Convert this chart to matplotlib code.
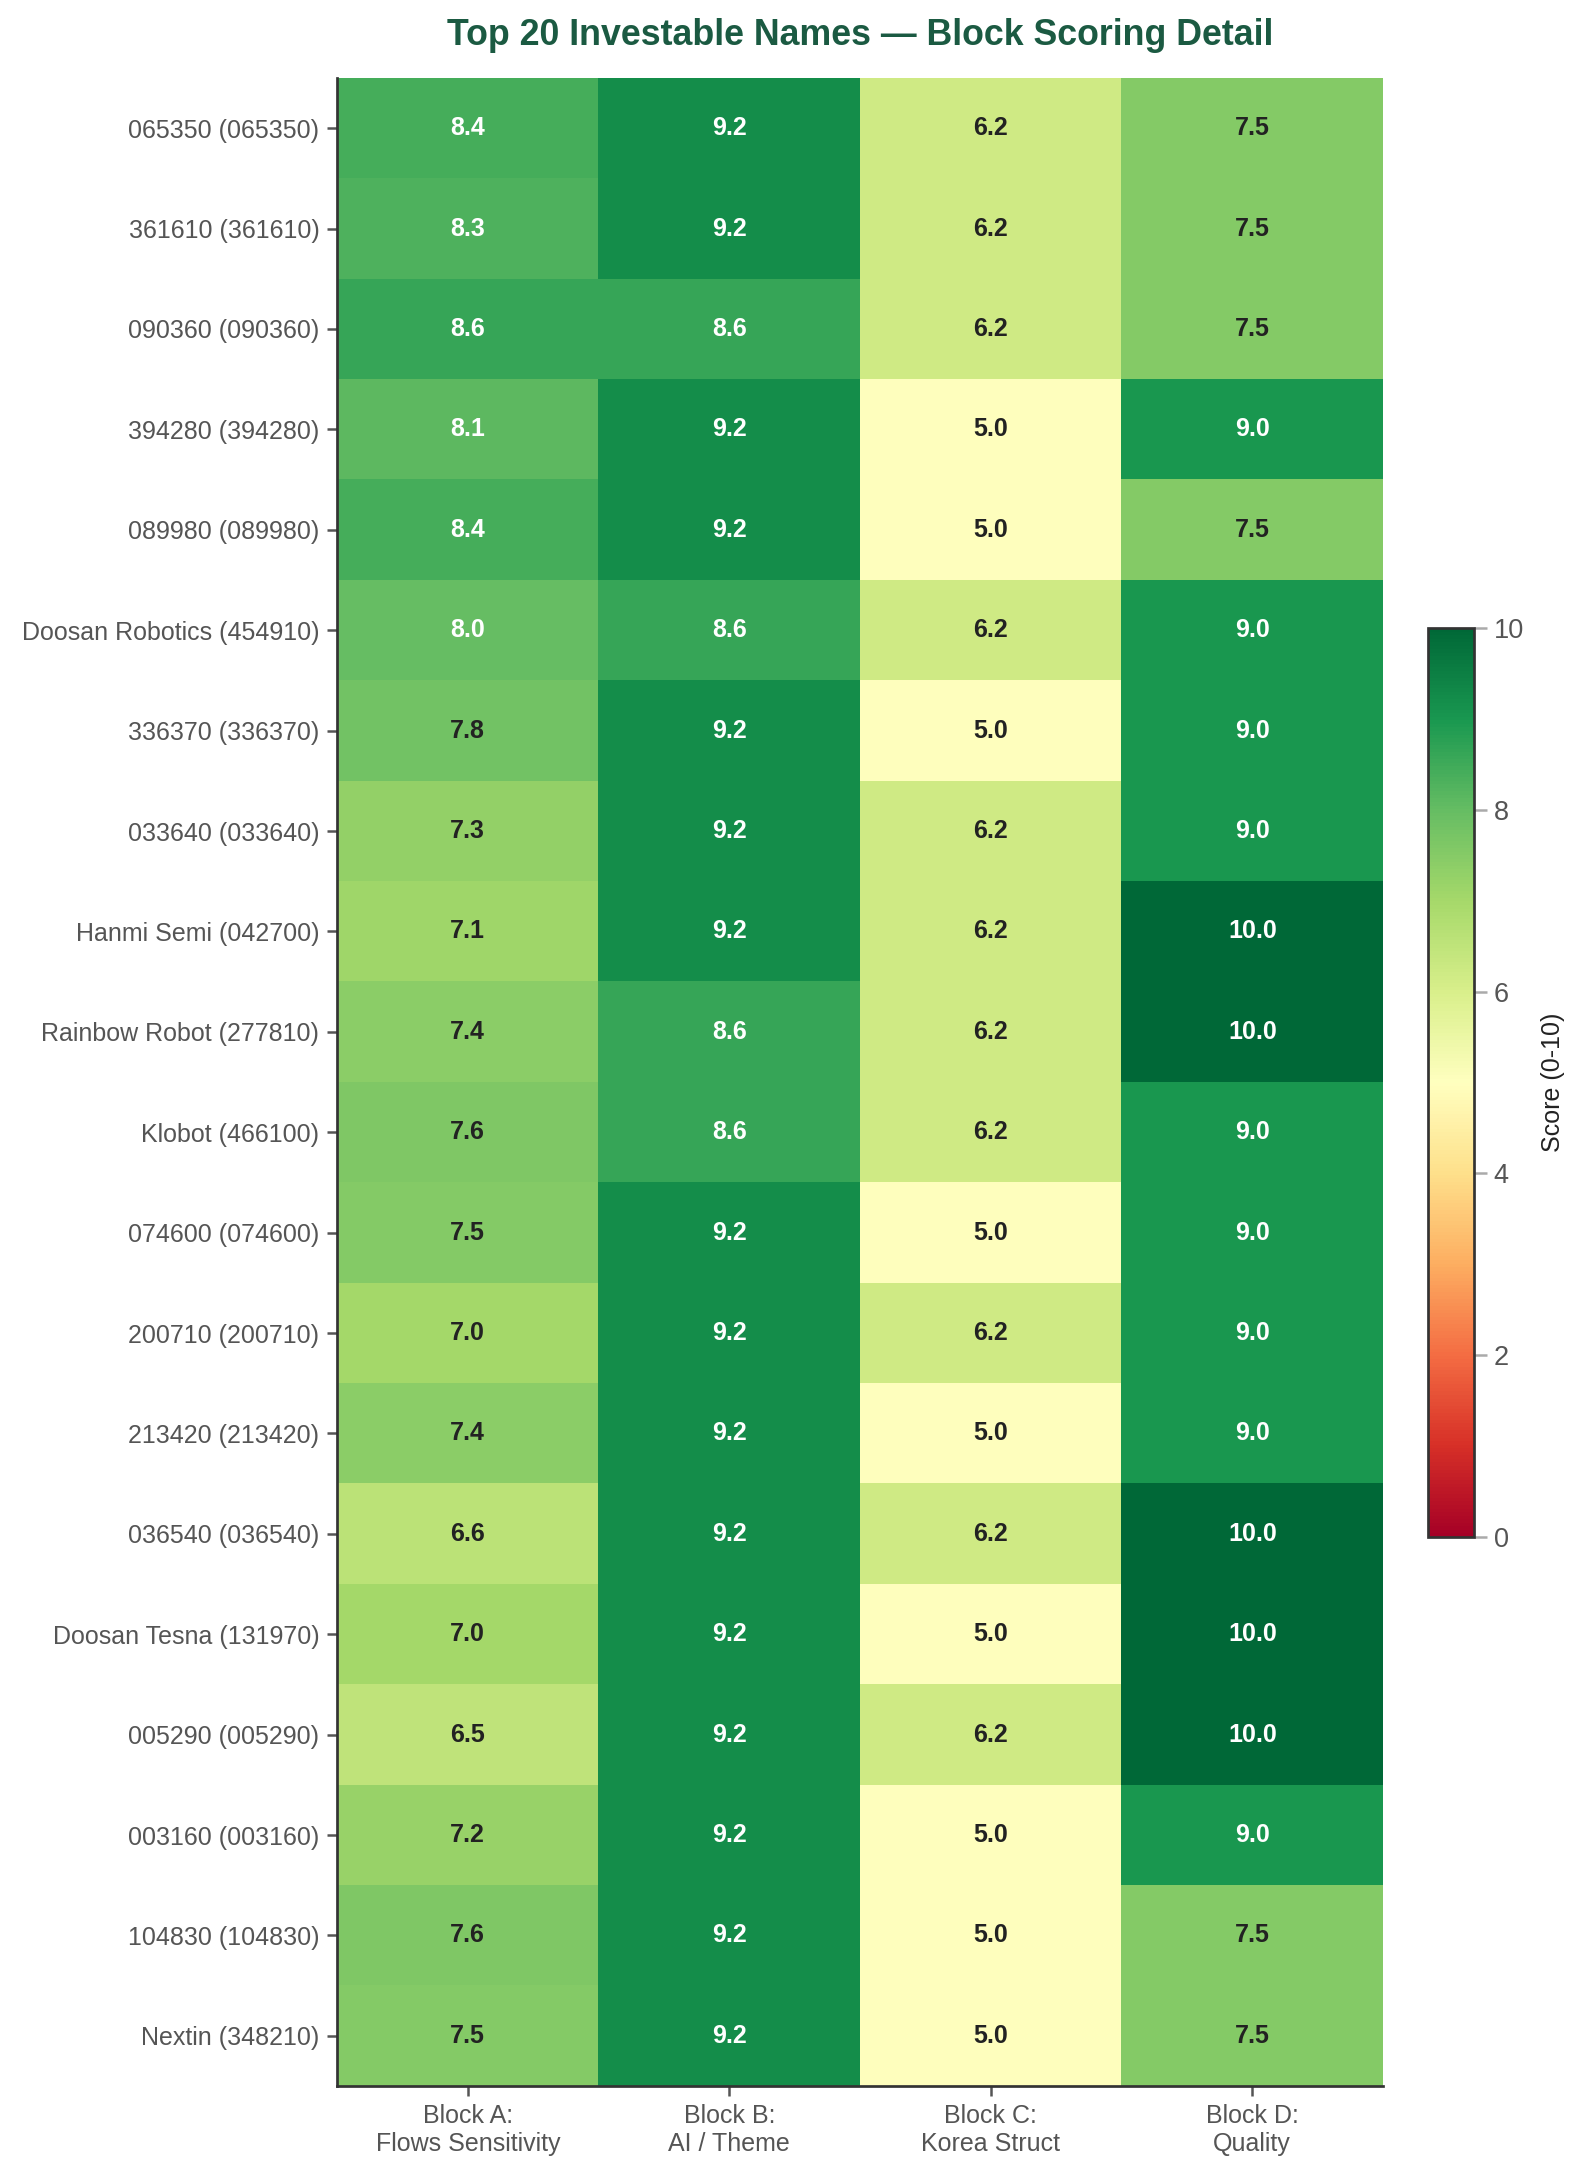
import matplotlib
matplotlib.use("Agg")
import matplotlib.pyplot as plt
import numpy as np

plt.rcParams["font.family"] = ["Liberation Sans", "DejaVu Sans"]

names = [
    "065350 (065350)", "361610 (361610)", "090360 (090360)", "394280 (394280)",
    "089980 (089980)", "Doosan Robotics (454910)", "336370 (336370)",
    "033640 (033640)", "Hanmi Semi (042700)", "Rainbow Robot (277810)",
    "Klobot (466100)", "074600 (074600)", "200710 (200710)", "213420 (213420)",
    "036540 (036540)", "Doosan Tesna (131970)", "005290 (005290)",
    "003160 (003160)", "104830 (104830)", "Nextin (348210)",
]
blocks = ["Block A:\nFlows Sensitivity", "Block B:\nAI / Theme",
          "Block C:\nKorea Struct", "Block D:\nQuality"]

block_a = [8.4, 8.3, 8.6, 8.1, 8.4, 8.0, 7.8, 7.3, 7.1, 7.4,
           7.6, 7.5, 7.0, 7.4, 6.6, 7.0, 6.5, 7.2, 7.6, 7.5]
block_b = [9.2, 9.2, 8.6, 9.2, 9.2, 8.6, 9.2, 9.2, 9.2, 8.6,
           8.6, 9.2, 9.2, 9.2, 9.2, 9.2, 9.2, 9.2, 9.2, 9.2]
block_c = [6.2, 6.2, 6.2, 5.0, 5.0, 6.2, 5.0, 6.2, 6.2, 6.2,
           6.2, 5.0, 6.2, 5.0, 6.2, 5.0, 6.2, 5.0, 5.0, 5.0]
block_d = [7.5, 7.5, 7.5, 9.0, 7.5, 9.0, 9.0, 9.0, 10.0, 10.0,
           9.0, 9.0, 9.0, 9.0, 10.0, 10.0, 10.0, 9.0, 7.5, 7.5]

scores = np.column_stack([block_a, block_b, block_c, block_d])

W, H = 1578, 2175
fig = plt.figure(figsize=(W / 150, H / 150), dpi=150)
# axes placed in pixel terms to follow the reference layout
ax = fig.add_axes([337 / W, 1 - 2086 / H, (1383 - 337) / W, (2086 - 78) / H])
cax = fig.add_axes([1428 / W, 1 - 1537 / H, (1474 - 1428) / W, (1537 - 628) / H])

im = ax.imshow(scores, cmap="RdYlGn", vmin=0, vmax=10, aspect="auto",
               interpolation="nearest")

for i in range(scores.shape[0]):
    for j in range(scores.shape[1]):
        v = scores[i, j]
        ax.text(j, i, f"{v:.1f}", ha="center", va="center", fontsize=12,
                fontweight="bold", color="white" if v >= 7.95 else "#222222")

ax.set_xticks(range(len(blocks)))
ax.set_xticklabels(blocks, fontsize=12, color="#555555")
ax.set_yticks(range(len(names)))
ax.set_yticklabels(names, fontsize=12, color="#555555")
ax.tick_params(axis="both", color="#555555", length=5, width=1.2)
for side in ["top", "right"]:
    ax.spines[side].set_visible(False)
for side in ["left", "bottom"]:
    ax.spines[side].set_color("#333333")
    ax.spines[side].set_linewidth(1.3)

cb = fig.colorbar(im, cax=cax)
cb.set_ticks([0, 2, 4, 6, 8, 10])
cb.ax.tick_params(labelsize=13, labelcolor="#555555", color="#aaaaaa",
                  length=6, width=1.2)
cb.outline.set_edgecolor("#333333")
cb.outline.set_linewidth(1.3)
cb.set_label("Score (0-10)", fontsize=12, color="#222222", labelpad=8)

ax.set_title("Top 20 Investable Names \u2014 Block Scoring Detail",
             fontsize=17.2, fontweight="bold", color="#1b5a42", pad=16)

fig.savefig("out.png", dpi=150)
